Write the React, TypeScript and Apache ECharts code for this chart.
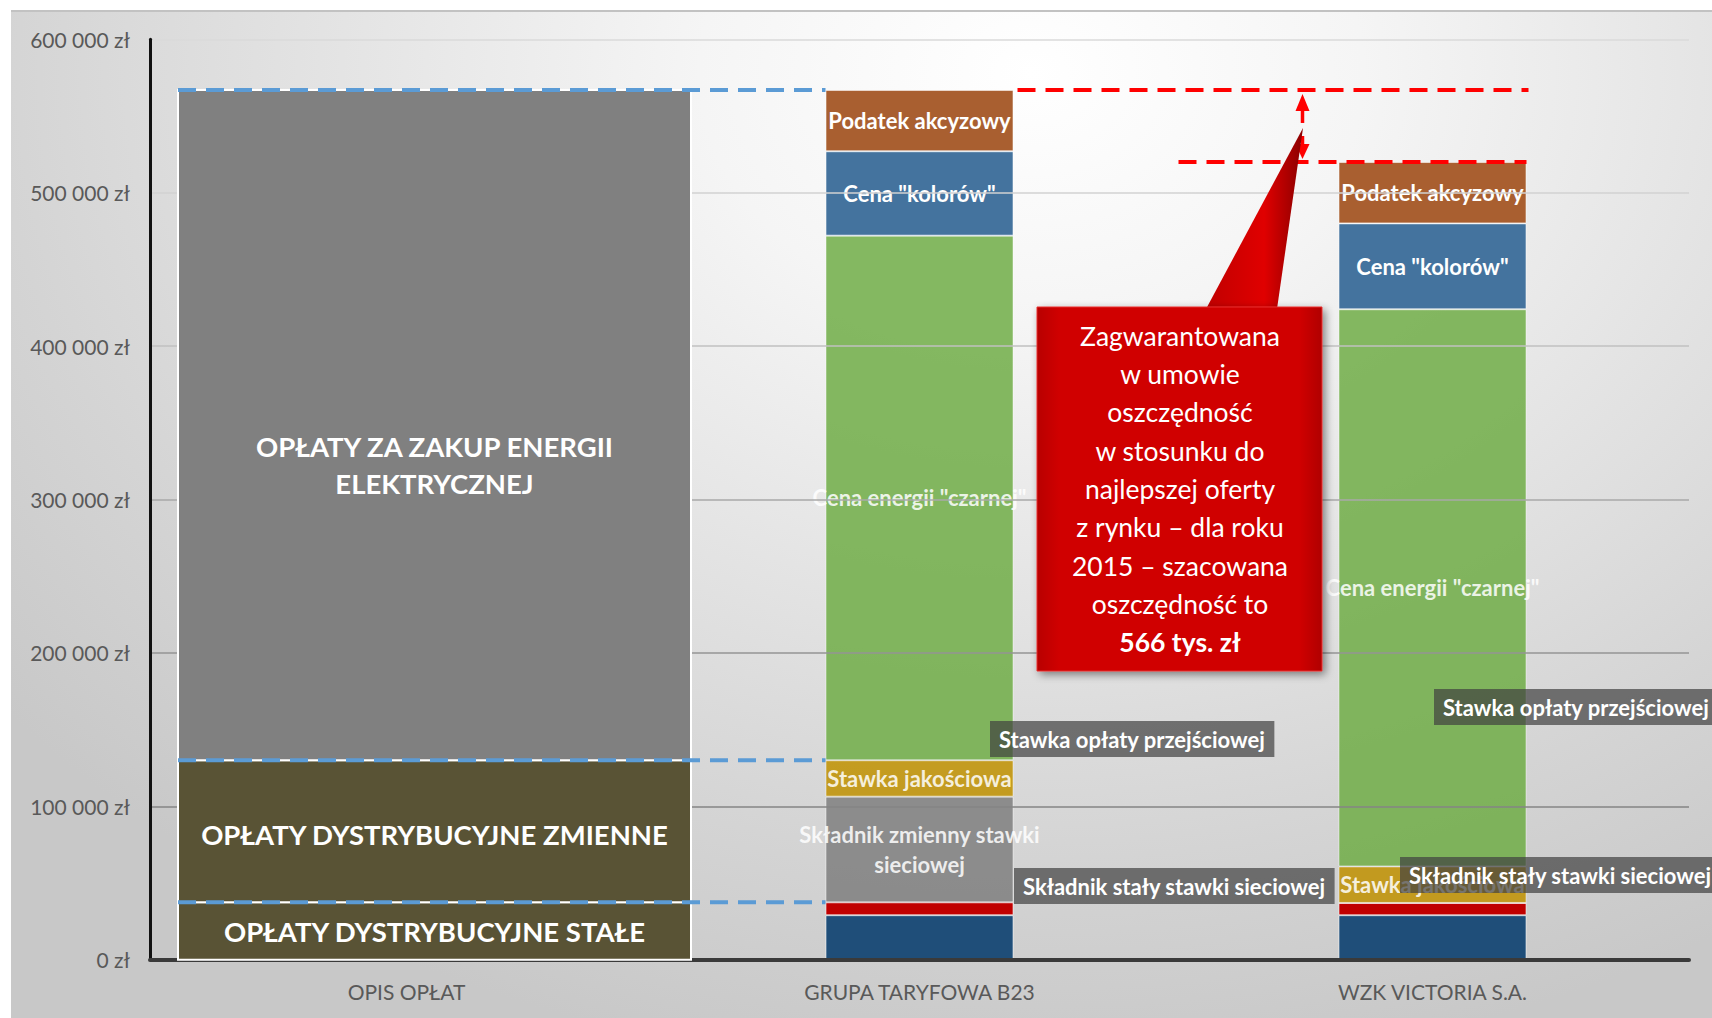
import React, { useEffect, useRef } from "react";
import * as echarts from "echarts";

const FONT = 'Lato, "Noto Sans", sans-serif';

// ---- data ----
const categories = ["OPIS OPŁAT", "GRUPA TARYFOWA B23", "WZK VICTORIA S.A."];

const opisNames = [
  "OPŁATY DYSTRYBUCYJNE STAŁE",
  "OPŁATY DYSTRYBUCYJNE ZMIENNE",
  "OPŁATY ZA ZAKUP ENERGII\nELEKTRYCZNEJ",
];
const opisValues = [37400, 92600, 437000];

const skladnikStalySieciowej: any[] = ["-", 29000, 29000];
const oplataPrzejsciowa: any[] = ["-", 8400, 8000];
const skladnikZmienny: any[] = ["-", 68900, 0];
const stawkaJakosciowa: any[] = ["-", 23700, 23800];
const cenaCzarnej: any[] = ["-", 342000, 363200];
const cenaKolorow: any[] = ["-", 55000, 56000];
const podatekAkcyzowy: any[] = ["-", 40000, 40000];

const yMin = 0;
const yMax = 600000;
const yStep = 100000;

const calloutLines = [
  "Zagwarantowana",
  "w umowie",
  "oszczędność",
  "w stosunku do",
  "najlepszej oferty",
  "z rynku – dla roku",
  "2015 – szacowana",
  "oszczędność to",
];
const calloutBold = "566 tys. zł";

// ---- helpers ----
const fmt = (v: number) =>
  String(v).replace(/\B(?=(\d{3})+(?!\d))/g, " ") + " zł";

const BAR_W = 188;
const OPIS_SHIFT = 28;

const stackSeries = [
  { name: "Składnik stały stawki sieciowej", data: skladnikStalySieciowej, color: "#1F4E79", opacity: 1, label: "" },
  { name: "Stawka opłaty przejściowej", data: oplataPrzejsciowa, color: "#C00000", opacity: 1, label: "" },
  { name: "Składnik zmienny stawki sieciowej", data: skladnikZmienny, color: "#7F7F7F", opacity: 0.85, label: "Składnik zmienny stawki\nsieciowej" },
  { name: "Stawka jakościowa", data: stawkaJakosciowa, color: "#BF9000", opacity: 0.85, label: "Stawka jakościowa" },
  { name: 'Cena energii "czarnej"', data: cenaCzarnej, color: "#70AD47", opacity: 0.85, label: 'Cena energii "czarnej"' },
  { name: 'Cena "kolorów"', data: cenaKolorow, color: "#44739E", opacity: 1, label: 'Cena "kolorów"' },
  { name: "Podatek akcyzowy", data: podatekAkcyzowy, color: "#A95F30", opacity: 1, label: "Podatek akcyzowy" },
];

const total = (i: number) =>
  stackSeries.reduce((s, ser) => s + (typeof ser.data[i] === "number" ? ser.data[i] : 0), 0);

const opisColors = ["#595335", "#595335", "#808080"];
const opisFont = [27.5, 27.5, 27.5];
const opisDy = [0, 3, 40];

export default function App() {
  const ref = useRef<HTMLDivElement>(null);

  useEffect(() => {
    if (!ref.current) return;
    const chart = echarts.init(ref.current, null, { renderer: "svg" });

    const opisData: any[] = [];
    let acc = 0;
    opisValues.forEach((v, i) => {
      opisData.push([0, acc, acc + v, i]);
      acc += v;
    });

    const barSeries = stackSeries.map((s) => ({
      name: s.name,
      type: "bar",
      stack: "total",
      barWidth: BAR_W,
      data: s.data,
      itemStyle: {
        color: s.color,
        opacity: s.opacity,
        borderColor: "rgba(255,255,255,0.55)",
        borderWidth: 1,
      },
      label: {
        show: !!s.label,
        position: "inside",
        color: "#ffffff",
        textBorderWidth: 0,
        textBorderColor: "transparent",
        fontFamily: FONT,
        fontWeight: "bold",
        fontSize: 22,
        lineHeight: 30,
        formatter: (p: any) => (p.value ? s.label : ""),
      },
      z: 2,
    }));

    const boxes = [
      { text: "Stawka opłaty przejściowej", x: 990, y: 721 },
      { text: "Składnik stały stawki sieciowej", x: 1014, y: 868 },
      { text: "Stawka opłaty przejściowej", x: 1434, y: 689 },
      { text: "Składnik stały stawki sieciowej", x: 1400, y: 857 },
    ];

    const option: any = {
      animation: false,
      backgroundColor: "transparent",
      grid: { left: 150, right: 23, top: 39.3, bottom: 58.3 },
      xAxis: {
        type: "category",
        data: categories,
        axisLine: { lineStyle: { color: "#3a3a3a", width: 4 } },
        axisTick: { show: false },
        axisLabel: { color: "#595959", fontSize: 21, fontFamily: FONT, margin: 21 },
        z: 3,
      },
      yAxis: {
        type: "value",
        min: yMin,
        max: yMax,
        interval: yStep,
        axisLine: { show: true, lineStyle: { color: "#111111", width: 3 } },
        axisTick: { show: false },
        axisLabel: { formatter: fmt, color: "#595959", fontSize: 21, fontFamily: FONT, margin: 20 },
        splitLine: {
          lineStyle: {
            color: ["#888888", "#858585", "#959595", "#a8a8a8", "#c0c0c0", "#d2d2d2", "#dadada"],
            width: 1.5,
          },
        },
        z: 3,
      },
      series: [
        ...barSeries,
        {
          name: "OPIS OPŁAT",
          type: "custom",
          z: 5,
          clip: false,
          encode: { x: 0, y: [1, 2] },
          data: opisData,
          renderItem: (params: any, api: any) => {
            const cat = api.value(0);
            const lo = api.value(1);
            const hi = api.value(2);
            const idx = api.value(3);
            const band = api.size([1, 0])[0];
            const pLo = api.coord([cat, lo]);
            const pHi = api.coord([cat, hi]);
            const x = pLo[0] - band / 2 + OPIS_SHIFT;
            const nextLeft = api.coord([1, hi])[0] - BAR_W / 2;
            return {
              type: "group",
              children: [
                {
                  type: "rect",
                  shape: { x, y: pHi[1], width: band, height: pLo[1] - pHi[1] },
                  style: { fill: opisColors[idx], stroke: "#ffffff", lineWidth: 2 },
                  z2: 0,
                },
                {
                  type: "text",
                  style: {
                    text: opisNames[idx],
                    x: x + band / 2,
                    y: (pLo[1] + pHi[1]) / 2 + opisDy[idx],
                    align: "center",
                    verticalAlign: "middle",
                    fill: "#ffffff",
                    fontFamily: FONT,
                    fontWeight: "bold",
                    fontSize: opisFont[idx],
                    lineHeight: 37,
                  },
                  z2: 5,
                },
                {
                  type: "line",
                  shape: { x1: x, y1: pHi[1], x2: nextLeft, y2: pHi[1] },
                  style: { stroke: "#5B9BD5", lineWidth: 4, lineDash: [18, 10] },
                  z2: 10,
                },
              ],
            };
          },
        },
        {
          name: "Oszczędność",
          type: "custom",
          z: 6,
          clip: false,
          encode: { x: 0, y: 1 },
          data: [[1, total(1), 2, total(2)]],
          renderItem: (params: any, api: any) => {
            const p2 = api.coord([api.value(0), api.value(1)]);
            const p3 = api.coord([api.value(2), api.value(3)]);
            const b2r = p2[0] + BAR_W / 2;
            const b3l = p3[0] - BAR_W / 2;
            const b3r = p3[0] + BAR_W / 2;
            const ax = b3l - 36;
            const y1 = p2[1];
            const y2 = p3[1];
            const mid = (y1 + y2) / 2;
            const red = "#ff0000";
            return {
              type: "group",
              children: [
                { type: "line", shape: { x1: b2r + 4, y1, x2: b3r + 2, y2: y1 }, style: { stroke: red, lineWidth: 4, lineDash: [18, 10] } },
                { type: "line", shape: { x1: b3l - 160, y1: y2, x2: b3r, y2 }, style: { stroke: red, lineWidth: 4, lineDash: [18, 10] } },
                { type: "polygon", shape: { points: [[ax, y1 + 4], [ax - 7, y1 + 21], [ax + 7, y1 + 21]] }, style: { fill: red } },
                { type: "line", shape: { x1: ax, y1: y1 + 20, x2: ax, y2: mid - 3 }, style: { stroke: red, lineWidth: 3.5 } },
                { type: "line", shape: { x1: ax, y1: mid + 10, x2: ax, y2: y2 - 17 }, style: { stroke: red, lineWidth: 3.5 } },
                { type: "polygon", shape: { points: [[ax, y2 - 3], [ax - 7, y2 - 18], [ax + 7, y2 - 18]] }, style: { fill: red } },
              ],
            };
          },
        },
      ],
      graphic: [
        {
          type: "polygon",
          z: 100,
          shape: { points: [[1206, 309], [1277, 309], [1303, 128]] },
          style: {
            fill: {
              type: "linear", x: 0, y: 0, x2: 1, y2: 0,
              colorStops: [
                { offset: 0, color: "#c00000" },
                { offset: 0.6, color: "#e00000" },
                { offset: 1, color: "#8a0000" },
              ],
            },
          },
        },
        {
          type: "rect",
          z: 101,
          shape: { x: 1037, y: 307, width: 285, height: 364 },
          style: {
            fill: {
              type: "linear", x: 0, y: 0, x2: 1, y2: 0,
              colorStops: [
                { offset: 0, color: "#b80000" },
                { offset: 0.08, color: "#d00000" },
                { offset: 0.92, color: "#d00000" },
                { offset: 1, color: "#b00000" },
              ],
            },
            stroke: "#e83030",
            lineWidth: 1,
            shadowBlur: 8,
            shadowOffsetX: 3,
            shadowOffsetY: 3,
            shadowColor: "rgba(0,0,0,0.45)",
          },
        },
        {
          type: "text",
          z: 102,
          style: {
            text: calloutLines.join("\n") + "\n{b|" + calloutBold + "}",
            x: 1180,
            y: 489,
            align: "center",
            verticalAlign: "middle",
            fill: "#ffffff",
            fontFamily: FONT,
            fontSize: 26.5,
            lineHeight: 38.3,
            rich: {
              b: { fontFamily: FONT, fontSize: 26.5, fontWeight: "bold", fill: "#ffffff", lineHeight: 38.3 },
            },
          },
        },
        ...boxes.map((b) => ({
          type: "text",
          z: 100,
          style: {
            text: b.text,
            x: b.x,
            y: b.y,
            fill: "#ffffff",
            fontFamily: FONT,
            fontWeight: "bold",
            fontSize: 22,
            lineHeight: 23,
            backgroundColor: "rgba(64,64,64,0.7)",
            padding: [7, 9, 6, 9],
          },
        })),
      ],
    };

    chart.setOption(option);
    return () => chart.dispose();
  }, []);

  return (
    <div style={{ position: "fixed", left: 0, top: 0, width: 1712, height: 1018, background: "#ffffff", overflow: "hidden" }}>
      <div
        style={{
          position: "absolute",
          left: 11,
          top: 10,
          width: 1701,
          height: 1008,
          borderTop: "2px solid #c2c2c2",
          background:
            "radial-gradient(ellipse 78% 100% at 60% 6%, #ffffff 0%, #f5f5f5 25%, #e4e4e4 52%, #d4d4d4 78%, #c8c8c8 100%)",
        }}
      />
      <div ref={ref} style={{ position: "absolute", left: 0, top: 0, width: 1712, height: 1018 }} />
    </div>
  );
}
